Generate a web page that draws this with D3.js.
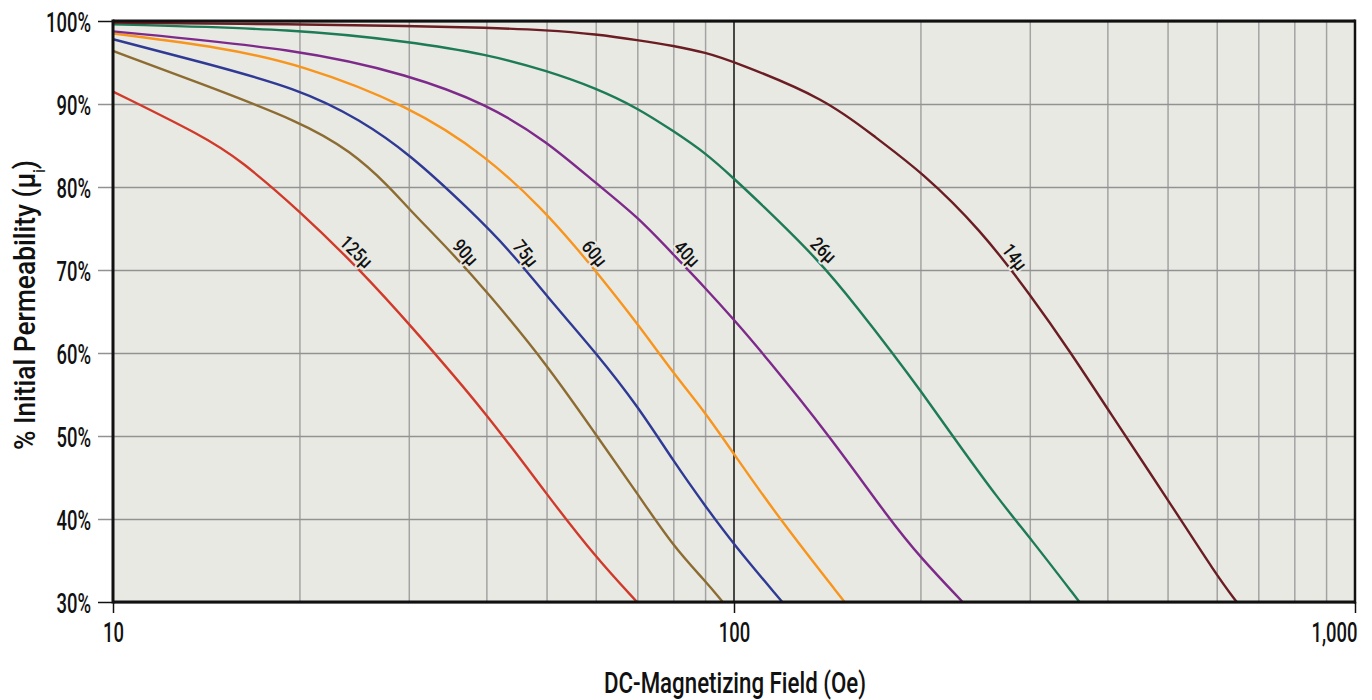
<!DOCTYPE html>
<html><head><meta charset="utf-8">
<script src="https://cdn.jsdelivr.net/npm/d3@7"></script>
<style>
body{margin:0;background:#fff;}
svg text{font-family:Roboto,"Liberation Sans Narrow","DejaVu Sans Condensed",Arial,sans-serif;font-weight:500;fill:#111;}
</style></head><body>
<svg id="c" width="1372" height="700"></svg>
<script>
// ---------- data ----------
const grades = ["125μ","90μ","75μ","60μ","40μ","26μ","14μ"];
const gradeColors = ["#d03a2b","#8d6c32","#2f3a94","#f7951d","#7d2a8a","#1d7b55","#6a1d22"];

const field125 = [10,14,16,20,25,30,40,50,60,69.8];
const perm125  = [91.5,86.1,83.3,77.1,70.0,63.5,52.7,42.9,35.3,30];

const field90 = [10,13.8,20,24.2,27.9,30,34.8,40,50,60,70,80,90,95.9];
const perm90  = [96.4,92.5,87.9,84.3,80.0,77.3,72.4,67.4,58.6,50.1,43.0,36.6,32.5,30];

const field75 = [10,13.8,20,25,30,37.6,43.5,50,60,70,80,90,100,119.6];
const perm75  = [97.8,95.1,91.8,88.1,84.0,77.2,72.4,66.8,60.0,53.6,46.9,41.5,36.9,30];

const field60 = [10,15,20,30,40,49.4,56.1,60,70,80,90,100,118.4,150.7];
const perm60  = [98.5,96.8,94.8,89.8,83.7,77.2,72.4,69.8,63.5,57.5,52.8,47.8,40.0,30];

const field40 = [10,20,30,40,50,60,70,80,90,100,111.2,142.6,177.8,200,233.4];
const perm40  = [98.75,96.6,93.5,90.0,85.5,80.4,76.4,71.8,67.8,64.0,60.0,50.0,40.0,35.3,30];

const field26 = [10,20,30,40,50,60,70,80,90,100,109,137,159,180,200,225,267,300,360];
const perm26  = [99.6,99.0,97.5,96.0,94.0,91.9,89.5,86.7,84.1,81.0,78.4,71.2,65.2,60.0,55.4,50.0,42.3,37.7,30];

const field14 = [10,20,30,40,50,60,70,80,90,100,141,170,200,250,300,349,400,500,600,645];
const perm14  = [99.8,99.6,99.4,99.2,98.9,98.4,97.7,97.0,96.2,95.1,90.6,85.8,81.9,74.8,67.0,60.0,53.2,42.3,33.1,30];

const labelField = [24.0,35.9,44.8,57.9,81.7,135.7,274.5];

const xTickValues = [10,100,1000];
const xMinorGrid = [20,30,40,50,60,70,80,90,200,300,400,500,600,700,800,900];
const yTickValues = [30,40,50,60,70,80,90,100];

const xTitle = "DC-Magnetizing Field (Oe)";
const yTitle = "% Initial Permeability (μ";
const yTitleSub = "i";

// ---------- setup ----------
const svg = d3.select("#c");
const L=113, R=1355, T=21, B=602;
const x = d3.scaleLog().domain([10,1000]).range([L,R]);
const y = d3.scaleLinear().domain([30,100]).range([B,T]);
const plotBg = "#e9e9e4";

svg.append("rect").attr("x",L).attr("y",T).attr("width",R-L).attr("height",B-T).attr("fill",plotBg);

// vertical minor grid
svg.append("g").selectAll("line").data(xMinorGrid).join("line")
  .attr("x1",d=>x(d)).attr("x2",d=>x(d)).attr("y1",T).attr("y2",B)
  .attr("stroke","#a3a3a3").attr("stroke-width",1.5);

// y axis with gridlines
const yAxis = d3.axisLeft(y).tickValues(yTickValues).tickSize(-(R-L)).tickFormat(d=>d+"%");
const gy = svg.append("g").attr("transform",`translate(${L},0)`).call(yAxis);
gy.select(".domain").remove();
gy.selectAll(".tick line").attr("x1",-15).attr("stroke",d=>(d===30||d===100)?"#111":"#929292").attr("stroke-width",1.5);
gy.selectAll(".tick text").attr("dy","0.36em").style("font-size","28px").attr("fill","#111");

// x axis
const xAxis = d3.axisBottom(x).tickValues(xTickValues).tickSize(11).tickFormat(d3.format(","));
const gx = svg.append("g").attr("transform",`translate(0,${B})`).call(xAxis);
gx.select(".domain").remove();
gx.selectAll(".tick line").attr("stroke","#111").attr("stroke-width",1.5);
gx.selectAll(".tick text").attr("y",40).attr("dy",0).style("font-size","28px").attr("fill","#111")
  .attr("text-anchor","middle");

// condense tick labels with a horizontal scale
const ref100 = gy.selectAll(".tick text").filter(d=>d===100).node().getComputedTextLength();
const kTick = 45/ref100;
gy.selectAll(".tick text").attr("transform",`scale(${kTick},1)`).attr("x",-22/kTick);
gx.selectAll(".tick text").attr("transform",`scale(${kTick},1)`).attr("x",d=>d===1000?-21/kTick:0);

// 100 Oe black line
svg.append("line").attr("x1",x(100)).attr("x2",x(100)).attr("y1",T).attr("y2",B).attr("stroke","#111").attr("stroke-width",1.5);

// curves
const fields=[field125,field90,field75,field60,field40,field26,field14];
const perms=[perm125,perm90,perm75,perm60,perm40,perm26,perm14];
const series = grades.map((g,i)=>({grade:g,color:gradeColors[i],pts:fields[i].map((f,j)=>[f,perms[i][j]]),lab:labelField[i]}));

svg.append("clipPath").attr("id","clip").append("rect").attr("x",L).attr("y",T).attr("width",R-L).attr("height",B-T);
const line = d3.line().x(d=>x(d[0])).y(d=>y(d[1])).curve(d3.curveBasis);
svg.append("g").attr("clip-path","url(#clip)").selectAll("path").data(series).join("path")
  .attr("d",d=>line(d.pts)).attr("fill","none").attr("stroke",d=>d.color).attr("stroke-width",2.4);

// curve labels
function locate(pts,f){
  for(let j=0;j<pts.length-1;j++){
    const a=pts[j],b=pts[j+1];
    if(f>=a[0]&&f<=b[0]){
      const t=(Math.log(f)-Math.log(a[0]))/(Math.log(b[0])-Math.log(a[0]));
      const p=a[1]+t*(b[1]-a[1]);
      const ang=Math.atan2(y(b[1])-y(a[1]),x(b[0])-x(a[0]))*180/Math.PI;
      return {px:x(f),py:y(p),ang};
    }
  }
}
const labs = svg.append("g").selectAll("text").data(series).join("text")
  .each(function(d){d.o=locate(d.pts,d.lab);})
  .attr("transform",d=>`translate(${d.o.px},${d.o.py}) rotate(${d.o.ang})`)
  .attr("text-anchor","middle").attr("dy","-0.2em")
  .style("font-size","19px")
  .attr("stroke",plotBg).attr("stroke-width",4).attr("paint-order","stroke").attr("stroke-linejoin","round")
  .text(d=>d.grade);

// borders
svg.append("line").attr("x1",L).attr("x2",L).attr("y1",T-1.5).attr("y2",B+1.5).attr("stroke","#111").attr("stroke-width",3);
svg.append("line").attr("x1",R).attr("x2",R).attr("y1",T-1.5).attr("y2",B+1.5).attr("stroke","#111").attr("stroke-width",2.5);
svg.append("line").attr("x1",L).attr("x2",R).attr("y1",T).attr("y2",T).attr("stroke","#111").attr("stroke-width",3);
svg.append("line").attr("x1",L).attr("x2",R).attr("y1",B).attr("y2",B).attr("stroke","#111").attr("stroke-width",3);

// titles
svg.append("text").attr("class","xt").attr("x",735).attr("y",693).attr("text-anchor","middle").style("font-size","30px").text(xTitle);
const yt = svg.append("text").attr("class","yt").attr("transform","translate(35,305) rotate(-90)").attr("text-anchor","middle").style("font-size","30px");
yt.append("tspan").text(yTitle);
yt.append("tspan").attr("baseline-shift","sub").style("font-size","16px").text(yTitleSub);
yt.append("tspan").text(")");

// condense other texts to match reference widths
function fit(sel, k){ sel.each(function(){const n=this.getComputedTextLength();this.setAttribute("textLength",n*k);this.setAttribute("lengthAdjust","spacingAndGlyphs");}); }
const kLab = 37/labs.filter(d=>d.grade==="125μ").node().getComputedTextLength();
fit(labs,kLab);
const xtn=svg.select(".xt").node(); xtn.setAttribute("textLength",262); xtn.setAttribute("lengthAdjust","spacingAndGlyphs");
const ytn=svg.select(".yt").node(); ytn.setAttribute("textLength",290); ytn.setAttribute("lengthAdjust","spacingAndGlyphs");
</script>
</body></html>
